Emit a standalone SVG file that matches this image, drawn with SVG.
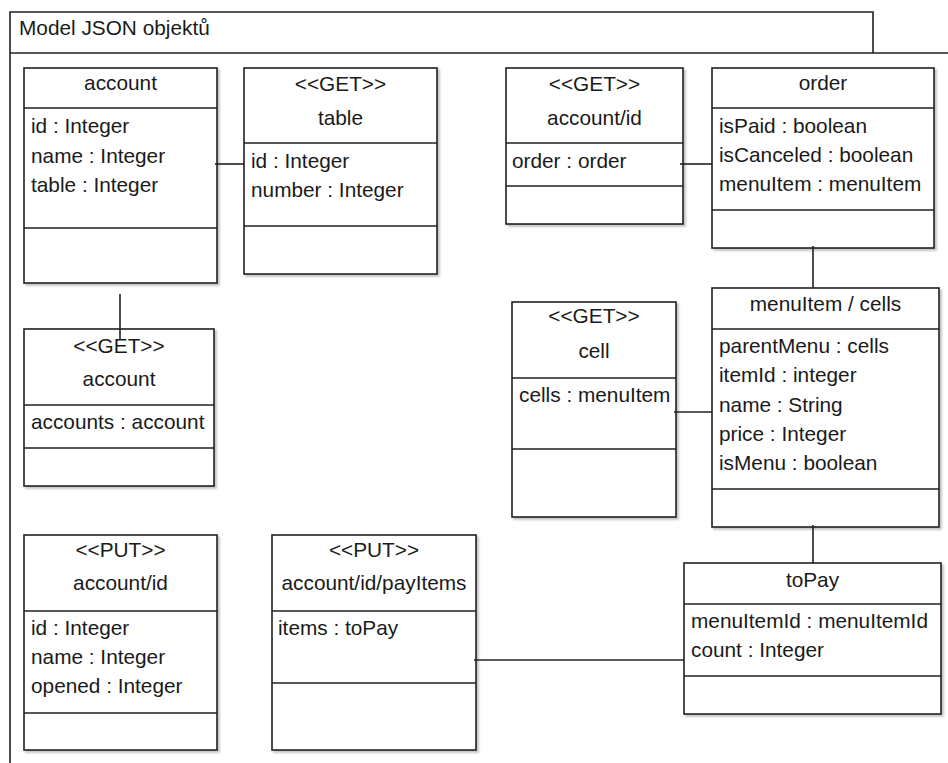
<svg xmlns="http://www.w3.org/2000/svg" width="948" height="763" viewBox="0 0 948 763">
<defs>
<filter id="sh" x="-5%" y="-5%" width="115%" height="115%">
<feDropShadow dx="2" dy="2" stdDeviation="1" flood-color="#000" flood-opacity="0.25"/>
</filter>
<style>
.box{fill:#fff;stroke:#222;stroke-width:1.6;filter:url(#sh)}
.div{stroke:#222;stroke-width:1.6;fill:none}
.ln{stroke:#222;stroke-width:1.6;fill:none}
text{font-family:"Liberation Sans",Arial,sans-serif;font-size:20.8px;fill:#1a1a1a}
.c{text-anchor:middle}
</style>
</defs>
<rect width="948" height="763" fill="#fff"/>
<g id="frame">
<path class="ln" d="M10,763 V12 H873 V53 M10,53 H948"/>
<text x="19" y="35">Model JSON objektů</text>
</g>
<g id="account">
<rect class="box" x="24" y="68" width="193" height="215"/>
<path class="div" d="M24,108 H217 M24,228 H217"/>
<text class="c" x="120.5" y="90">account</text>
<text x="31" y="133">id : Integer</text>
<text x="31" y="163">name : Integer</text>
<text x="31" y="192">table : Integer</text>
</g>
<g id="get-table">
<rect class="box" x="244" y="68" width="193" height="206"/>
<path class="div" d="M244,143 H437 M244,226 H437"/>
<text class="c" x="340.5" y="91">&lt;&lt;GET&gt;&gt;</text>
<text class="c" x="340.5" y="125">table</text>
<text x="251" y="168">id : Integer</text>
<text x="251" y="197">number : Integer</text>
</g>
<g id="get-account-id">
<rect class="box" x="506" y="68" width="177" height="156"/>
<path class="div" d="M506,143 H683 M506,186 H683"/>
<text class="c" x="594.5" y="91">&lt;&lt;GET&gt;&gt;</text>
<text class="c" x="594.5" y="125">account/id</text>
<text x="512" y="168">order : order</text>
</g>
<g id="order">
<rect class="box" x="712" y="68" width="222" height="180"/>
<path class="div" d="M712,108 H934 M712,210 H934"/>
<text class="c" x="823" y="90">order</text>
<text x="719" y="133">isPaid : boolean</text>
<text x="719" y="162">isCanceled : boolean</text>
<text x="719" y="191">menuItem : menuItem</text>
</g>
<g id="get-account">
<rect class="box" x="24" y="329" width="190" height="157"/>
<path class="div" d="M24,405 H214 M24,448 H214"/>
<text class="c" x="119" y="353">&lt;&lt;GET&gt;&gt;</text>
<text class="c" x="119" y="386">account</text>
<text x="31" y="429">accounts : account</text>
</g>
<g id="get-cell">
<rect class="box" x="512" y="302" width="164" height="215"/>
<path class="div" d="M512,378 H676 M512,449 H676"/>
<text class="c" x="594" y="323">&lt;&lt;GET&gt;&gt;</text>
<text class="c" x="594" y="358">cell</text>
<text x="519" y="402">cells : menuItem</text>
</g>
<g id="menuitem-cells">
<rect class="box" x="712" y="288" width="227" height="239"/>
<path class="div" d="M712,329 H939 M712,489 H939"/>
<text class="c" x="825.5" y="311">menuItem / cells</text>
<text x="719" y="353">parentMenu : cells</text>
<text x="719" y="382">itemId : integer</text>
<text x="719" y="412">name : String</text>
<text x="719" y="441">price : Integer</text>
<text x="719" y="470">isMenu : boolean</text>
</g>
<g id="put-account-id">
<rect class="box" x="24" y="535" width="193" height="215"/>
<path class="div" d="M24,611 H217 M24,713 H217"/>
<text class="c" x="120.5" y="557">&lt;&lt;PUT&gt;&gt;</text>
<text class="c" x="120.5" y="590">account/id</text>
<text x="31" y="635">id : Integer</text>
<text x="31" y="664">name : Integer</text>
<text x="31" y="693">opened : Integer</text>
</g>
<g id="put-payitems">
<rect class="box" x="272" y="535" width="204" height="215"/>
<path class="div" d="M272,611 H476 M272,683 H476"/>
<text class="c" x="374" y="557">&lt;&lt;PUT&gt;&gt;</text>
<text class="c" x="374" y="590">account/id/payItems</text>
<text x="278" y="635">items : toPay</text>
</g>
<g id="topay">
<rect class="box" x="684" y="563" width="257" height="151"/>
<path class="div" d="M684,604 H941 M684,676 H941"/>
<text class="c" x="812.5" y="587">toPay</text>
<text x="691" y="628">menuItemId : menuItemId</text>
<text x="691" y="657">count : Integer</text>
</g>
<g id="connectors">
<path class="ln" d="M215,164 H244"/>
<path class="ln" d="M680,164 H712"/>
<path class="ln" d="M813,246 V288"/>
<path class="ln" d="M120,294 V340"/>
<path class="ln" d="M674,412 H712"/>
<path class="ln" d="M813,525 V563"/>
<path class="ln" d="M474,660 H684"/>
</g>
</svg>
